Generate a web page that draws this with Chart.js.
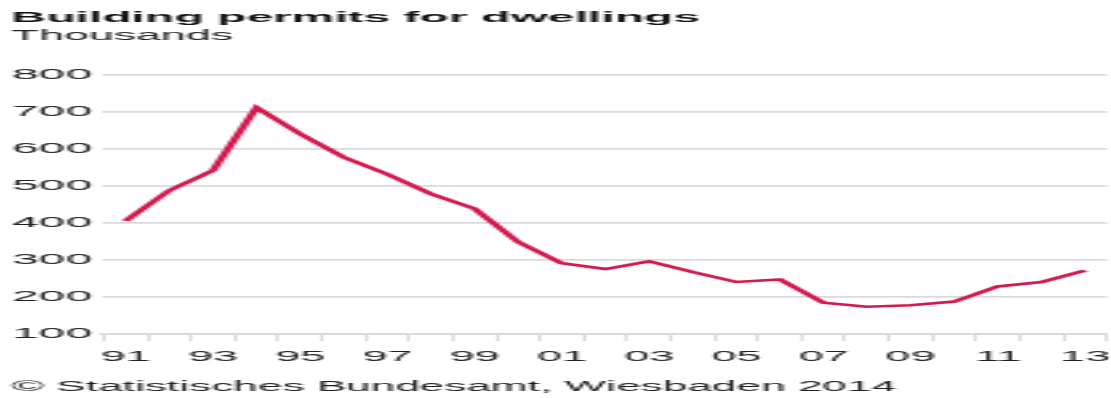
<!DOCTYPE html>
<html>
<head>
<meta charset="utf-8">
<script src="https://cdn.jsdelivr.net/npm/chart.js@4/dist/chart.umd.min.js"></script>
<style>
  html, body { margin: 0; padding: 0; background: #fff; overflow: hidden; }
  /* the reference is a narrow chart stretched sideways, so draw narrow and stretch */
  #wrap { position: relative; width: 347px; height: 398px; transform: scaleX(3.2017); transform-origin: 0 0; }
</style>
</head>
<body>
<div id="wrap"><canvas id="chart"></canvas></div>
<script>
const TITLE = "Building permits for dwellings";
const UNIT = "Thousands";
const SOURCE = "\u00A9 Statistisches Bundesamt, Wiesbaden 2014";

const years = ["91", "92", "93", "94", "95", "96", "97", "98", "99", "00", "01", "02",
    "03", "04", "05", "06", "07", "08", "09", "10", "11", "12", "13"];
const permits = [406, 488, 542, 712, 641, 578, 532, 479, 439, 349, 292, 276,
    297, 268, 241, 248, 185, 174, 178, 188, 229, 241, 272];

const FONT = "'Liberation Sans', Arial, sans-serif";
const GRID = "#dadada";

const textPlugin = {
    id: "texts",
    afterDraw(chart) {
        const ctx = chart.ctx;
        ctx.save();
        ctx.textBaseline = "alphabetic";
        ctx.textAlign = "left";
        ctx.fillStyle = "#111";
        ctx.font = "bold 15px " + FONT;
        ctx.fillText(TITLE, 3.6, 22);
        ctx.fillStyle = "#222";
        ctx.font = "14px " + FONT;
        ctx.fillText(UNIT, 3.6, 40);
        ctx.font = "13.8px " + FONT;
        ctx.fillText(SOURCE, 3.6, 391);
        ctx.restore();
    }
};

const chart = new Chart(document.getElementById("chart").getContext("2d"), {
    type: "line",
    data: {
        labels: years,
        datasets: [{
            data: permits,
            borderColor: "#d31a4e",
            borderWidth: 2.6,
            pointRadius: 0,
            tension: 0,
            fill: false
        }]
    },
    options: {
        responsive: true,
        maintainAspectRatio: false,
        animation: false,
        devicePixelRatio: 1,
        layout: { padding: { top: 75, left: 0, right: 1, bottom: 24 } },
        plugins: {
            legend: { display: false },
            tooltip: { enabled: false }
        },
        scales: {
            x: {
                offset: true,
                afterFit: function (scale) {
                    // labels sit inside the offset, no side padding wanted
                    scale.paddingLeft = 0;
                    scale.paddingRight = 0;
                },
                grid: {
                    offset: true,
                    drawOnChartArea: false,
                    drawTicks: true,
                    tickLength: 7,
                    color: GRID,
                    lineWidth: 1
                },
                border: { display: true, color: GRID, width: 2 },
                ticks: {
                    autoSkip: false,
                    maxRotation: 0,
                    padding: 8,
                    color: "#222",
                    font: { family: FONT, size: 14 },
                    callback: function (value, index) {
                        return index % 2 === 0 ? years[index] : "";
                    }
                }
            },
            y: {
                min: 100,
                max: 800,
                ticks: {
                    stepSize: 100,
                    padding: 3.7,
                    color: "#222",
                    font: { family: FONT, size: 15 }
                },
                grid: { color: GRID, lineWidth: 1.8, drawTicks: false, tickLength: 0 },
                border: { display: false }
            }
        }
    },
    plugins: [textPlugin]
});
</script>
</body>
</html>
